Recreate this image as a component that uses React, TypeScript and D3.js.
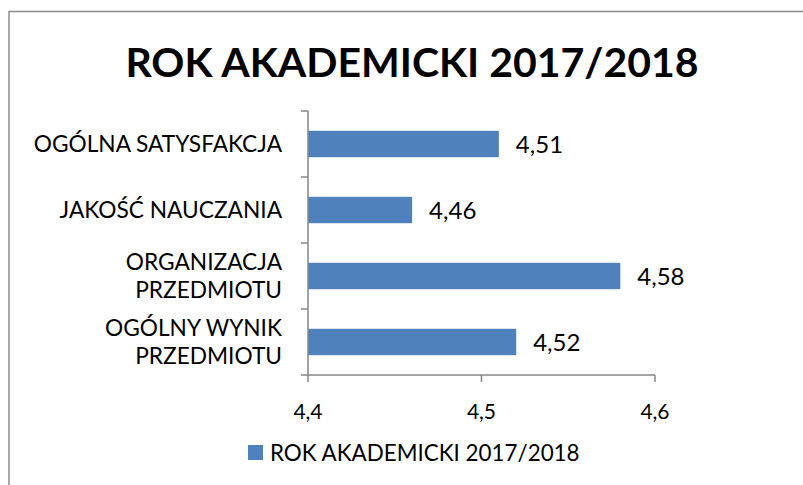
import React, { useEffect, useRef } from "react";
import * as d3 from "d3";

const TITLE = "ROK AKADEMICKI 2017/2018";
const SERIES_NAME = "ROK AKADEMICKI 2017/2018";
const categories: string[][] = [
  ["OGÓLNA SATYSFAKCJA"],
  ["JAKOŚĆ NAUCZANIA"],
  ["ORGANIZACJA", "PRZEDMIOTU"],
  ["OGÓLNY WYNIK", "PRZEDMIOTU"],
];
const values: number[] = [4.51, 4.46, 4.58, 4.52];
const valueLabels: string[] = ["4,51", "4,46", "4,58", "4,52"];
const xTicks: number[] = [4.4, 4.5, 4.6];
const xTickLabels: string[] = ["4,4", "4,5", "4,6"];

const W = 803;
const H = 485;
const FONT = "Lato, 'Open Sans', sans-serif";
const BAR = "#4F81BD";
const AXIS = "#868686";

export default function App() {
  const ref = useRef<SVGSVGElement | null>(null);

  useEffect(() => {
    const svg = d3.select(ref.current);
    svg.selectAll("*").remove();

    // chart area border
    svg
      .append("rect")
      .attr("x", 9)
      .attr("y", 11.5)
      .attr("width", W + 20)
      .attr("height", H + 20)
      .attr("fill", "white")
      .attr("stroke", "#8c8c8c")
      .attr("stroke-width", 1.5);

    // title
    svg
      .append("text")
      .attr("x", 412)
      .attr("y", 77)
      .attr("text-anchor", "middle")
      .attr("font-family", FONT)
      .attr("font-weight", "bold")
      .attr("font-size", 41)
      .attr("fill", "#000")
      .text(TITLE);

    const keys = categories.map((c) => c.join(" "));
    const x = d3.scaleLinear().domain([4.4, 4.6]).range([308, 655]);
    const y = d3
      .scaleBand<string>()
      .domain(keys)
      .range([111, 375])
      .paddingInner(0.6)
      .paddingOuter(0.3);

    // bars
    svg
      .append("g")
      .selectAll("rect")
      .data(values)
      .join("rect")
      .attr("x", x(4.4))
      .attr("y", (_d, i) => y(keys[i])!)
      .attr("width", (d) => x(d) - x(4.4))
      .attr("height", y.bandwidth())
      .attr("fill", BAR);

    // value labels
    svg
      .append("g")
      .selectAll("text")
      .data(values)
      .join("text")
      .attr("x", (d) => x(d) + 17)
      .attr("y", (_d, i) => y(keys[i])! + y.bandwidth() / 2 + 9)
      .attr("font-family", FONT)
      .attr("font-size", 24)
      .attr("fill", "#000")
      .text((_d, i) => valueLabels[i]);

    // y axis line and ticks
    const axisG = svg.append("g").attr("stroke", AXIS).attr("stroke-width", 1.5);
    axisG
      .append("line")
      .attr("x1", x(4.4))
      .attr("x2", x(4.4))
      .attr("y1", 111)
      .attr("y2", 375);
    const step = y.step();
    const yTickPos = d3.range(keys.length + 1).map((i) => 111 + i * step);
    axisG
      .selectAll("line.yt")
      .data(yTickPos)
      .join("line")
      .attr("class", "yt")
      .attr("x1", x(4.4) - 7)
      .attr("x2", x(4.4))
      .attr("y1", (d) => d)
      .attr("y2", (d) => d);

    // x axis line and ticks
    axisG
      .append("line")
      .attr("x1", x(4.4))
      .attr("x2", x(4.6))
      .attr("y1", 375)
      .attr("y2", 375);
    axisG
      .selectAll("line.xt")
      .data(xTicks)
      .join("line")
      .attr("class", "xt")
      .attr("x1", (d) => x(d))
      .attr("x2", (d) => x(d))
      .attr("y1", 375)
      .attr("y2", 382);

    svg
      .append("g")
      .selectAll("text")
      .data(xTicks)
      .join("text")
      .attr("x", (d) => x(d))
      .attr("y", 419)
      .attr("text-anchor", "middle")
      .attr("font-family", FONT)
      .attr("font-size", 21)
      .attr("fill", "#000")
      .text((_d, i) => xTickLabels[i]);

    // category labels
    const labelRight = 282;
    const lineCenter = 210;
    const lineGap = 28.5;
    const catG = svg.append("g");
    categories.forEach((lines, i) => {
      const cy = y(keys[i])! + y.bandwidth() / 2;
      const n = lines.length;
      lines.forEach((line, j) => {
        const t = catG
          .append("text")
          .attr("font-family", FONT)
          .attr("font-size", 22.7)
          .attr("fill", "#000")
          .attr("text-anchor", "middle")
          .attr("y", cy + (j - (n - 1) / 2) * lineGap + 8)
          .text(line);
        const w = (t.node() as SVGTextElement).getComputedTextLength();
        t.attr("x", Math.min(lineCenter, labelRight - w / 2));
      });
    });

    // legend
    svg
      .append("rect")
      .attr("x", 248)
      .attr("y", 445)
      .attr("width", 15)
      .attr("height", 15)
      .attr("fill", BAR);
    svg
      .append("text")
      .attr("x", 270)
      .attr("y", 461)
      .attr("font-family", FONT)
      .attr("font-size", 22.4)
      .attr("fill", "#000")
      .text(SERIES_NAME);
  }, []);

  return (
    <svg
      ref={ref}
      width={W}
      height={H}
      style={{ position: "absolute", left: 0, top: 0, background: "white" }}
    />
  );
}
